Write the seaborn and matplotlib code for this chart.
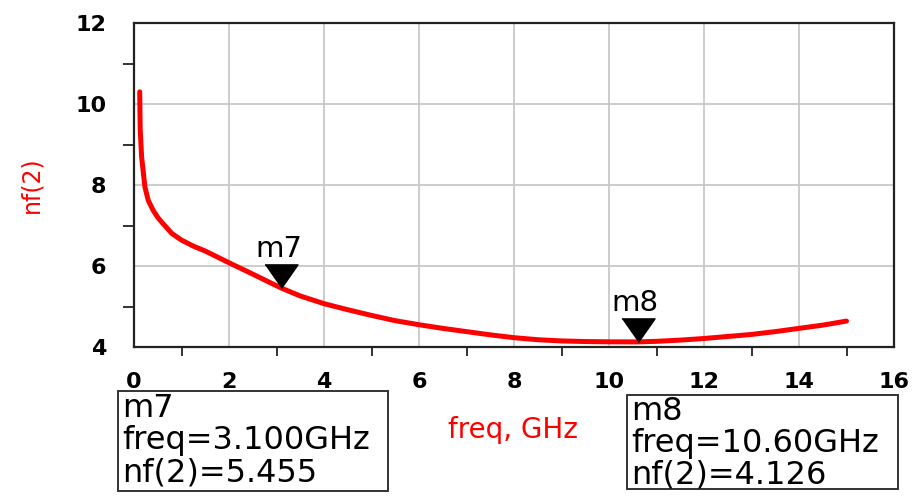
import pandas as pd
import matplotlib
matplotlib.use("Agg")
import matplotlib.pyplot as plt
import seaborn as sns
from matplotlib.patches import Rectangle

# noise figure sweep
freq = [0.12, 0.13, 0.16, 0.23, 0.3, 0.4, 0.5, 0.6, 0.8, 1.0, 1.25, 1.5,
        2.0, 2.5, 3.1, 3.5, 4.0, 4.5, 5.0, 5.5, 6.0, 6.5, 7.0, 7.5, 8.0,
        8.5, 9.0, 9.5, 10.0, 10.6, 11.0, 11.5, 12.0, 12.5, 13.0, 13.5, 14.0,
        14.5, 15.0]
nf = [10.3, 9.4, 8.7, 7.95, 7.62, 7.38, 7.2, 7.06, 6.8, 6.64, 6.49, 6.37,
      6.08, 5.8, 5.455, 5.26, 5.07, 4.92, 4.78, 4.65, 4.55, 4.46, 4.38, 4.3,
      4.23, 4.18, 4.15, 4.135, 4.128, 4.126, 4.14, 4.17, 4.21, 4.26, 4.31,
      4.38, 4.46, 4.54, 4.64]

marker_names = ["m7", "m8"]
marker_freq = [3.1, 10.6]
marker_nf = [5.455, 4.126]
marker_freq_txt = ["3.100GHz", "10.60GHz"]

xticks = [0, 2, 4, 6, 8, 10, 12, 14, 16]
yticks = [4, 6, 8, 10, 12]

df = pd.DataFrame({"freq": freq, "nf": nf})

sns.set_style("white")
plt.rcParams["font.family"] = ["DejaVu Sans"]

fig = plt.figure(figsize=(9.16, 5.0), dpi=100)
ax = fig.add_axes([134 / 916, 1 - 347 / 500, 760 / 916, 324 / 500])

sns.lineplot(data=df, x="freq", y="nf", ax=ax, color="#ff0000",
             linewidth=3.6, estimator=None, sort=False)

# ADS style marker triangles with the tip on the point
tri = [(-0.7, 1.0), (0.7, 1.0), (0.0, 0.0)]
ax.plot(marker_freq, marker_nf, linestyle="none", marker=tri,
        markersize=34, color="black", zorder=5)
for name, fx, fy in zip(marker_names, marker_freq, marker_nf):
    ax.annotate(name, (fx, fy), xytext=(-2, 22.5), textcoords="offset points",
                ha="center", va="baseline", fontsize=21, color="black")

ax.set_xlim(0, 16)
ax.set_ylim(4, 12)
ax.set_xticks(xticks)
ax.set_yticks(yticks)
ax.set_xticks(range(0, 17), minor=True)
ax.set_yticks(range(4, 13), minor=True)
ax.set_xlabel("")
ax.set_ylabel("")
ax.grid(True, which="major", color="#c8c8c8", linewidth=1.3)
ax.set_axisbelow(True)
for s in ax.spines.values():
    s.set_color("#222222")
    s.set_linewidth(1.6)

ax.tick_params(axis="y", which="major", direction="out", length=16.5,
               width=1.3, color="#222222", pad=3.5, labelsize=16,
               labelcolor="black")
ax.tick_params(axis="y", which="minor", direction="out", length=8,
               width=1.3, color="#222222", left=True)
ax.tick_params(axis="x", which="major", direction="out", length=13,
               width=1.3, color="#222222", pad=5, labelsize=16,
               labelcolor="black")
ax.tick_params(axis="x", which="minor", direction="out", length=6.5,
               width=1.3, color="#222222", bottom=True)
for lab in ax.get_xticklabels() + ax.get_yticklabels():
    lab.set_fontweight("bold")

# axis titles (ADS places them in red)
fig.text(31 / 916, 1 - 185 / 500, "nf(2)", rotation=90, color="#ff0000",
         fontsize=17, ha="center", va="center")
fig.text(513 / 916, 1 - 430 / 500, "freq, GHz", color="#ff0000",
         fontsize=20, ha="center", va="center")

# marker readout boxes
boxes = [(118, 391, 388, 491), (627, 395, 898, 489)]
baselines = [(417, 449, 481), (420, 452, 484)]
for (x0, y0, x1, y1), bl, name, ftxt, v in zip(boxes, baselines, marker_names,
                                               marker_freq_txt, marker_nf):
    fig.patches.append(Rectangle((x0 / 916, 1 - y1 / 500), (x1 - x0) / 916,
                                 (y1 - y0) / 500, transform=fig.transFigure,
                                 fill=False, edgecolor="#333333",
                                 linewidth=1.4))
    lines = [name, "freq=" + ftxt, "nf(2)=%.3f" % v]
    for txt, b in zip(lines, bl):
        fig.text((x0 + 4) / 916, 1 - b / 500, txt, fontsize=23,
                 ha="left", va="baseline", color="black")

fig.savefig("out.png", dpi=100)
